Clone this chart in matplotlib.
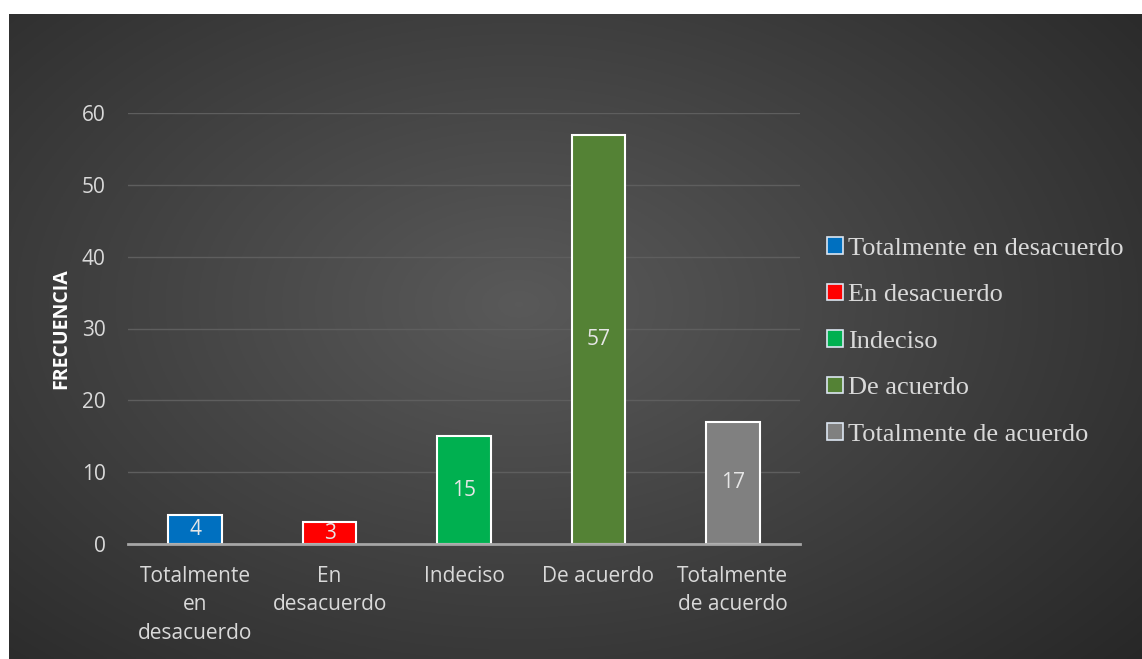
import matplotlib
matplotlib.use('Agg')
import matplotlib.pyplot as plt
import numpy as np
from matplotlib.patches import Patch

categorias = ['Totalmente\nen\ndesacuerdo', 'En\ndesacuerdo', 'Indeciso', 'De acuerdo', 'Totalmente\nde acuerdo']
leyenda = ['Totalmente en desacuerdo', 'En desacuerdo', 'Indeciso', 'De acuerdo', 'Totalmente de acuerdo']
frecuencia = [4, 3, 15, 57, 17]
colores = ['#0070C0', '#FF0000', '#00B050', '#548235', '#808080']

plt.rcParams['font.family'] = ['Open Sans', 'DejaVu Sans']

fig = plt.figure(figsize=(11.42, 6.59), dpi=100)
fig.patch.set_facecolor('white')

# fondo oscuro con gradiente radial
bg = fig.add_axes([9/1142, 0, 1 - 9/1142, 1 - 14/659])
yy, xx = np.mgrid[0:1:300j, 0:1:500j]
r = np.sqrt(((xx - 0.45) / 0.75) ** 2 + ((yy - 0.45) / 0.85) ** 2)
val = 0.35 - 0.20 * np.clip(r, 0, 1)
bg.imshow(np.dstack([val, val, val]), extent=[0, 1, 0, 1], aspect='auto', origin='upper')
bg.axis('off')

ax = fig.add_axes([128/1142, 115/659, 672/1142, 431/659])
ax.set_facecolor('none')
x = np.arange(len(categorias))
barras = ax.bar(x, frecuencia, width=0.4, color=colores, edgecolor='white', linewidth=1.5, zorder=3)
for b, v in zip(barras, frecuencia):
    ax.text(b.get_x() + b.get_width() / 2, v / 2, str(v), ha='center', va='center',
            color='#e6e6e6', fontsize=15, zorder=4)

ax.set_xlim(-0.5, 4.5)
ax.set_ylim(0, 60)
ax.set_yticks(range(0, 61, 10))
ax.grid(axis='y', color='#5e5e5e', linewidth=1, zorder=0)
ax.set_xticks(x)
ax.set_xticklabels(categorias, color='#d9d9d9', fontsize=15, linespacing=1.45)
ax.tick_params(axis='y', colors='#d9d9d9', labelsize=15, length=0, pad=16)
ax.tick_params(axis='x', length=0, pad=16)
for s in ['top', 'right', 'left']:
    ax.spines[s].set_visible(False)
ax.spines['bottom'].set_color('#a6a6a6')
ax.spines['bottom'].set_linewidth(2)
ax.spines['bottom'].set_zorder(5)
ax.set_ylabel('FRECUENCIA', color='white', fontsize=14, fontweight='bold', labelpad=8)

handles = [Patch(facecolor=c, edgecolor='#dce6f2', linewidth=1.2) for c in colores]
ax.legend(handles, leyenda, loc='center left', bbox_to_anchor=(1.005, 0.47), frameon=False,
          prop={'family': 'Liberation Serif', 'size': 19}, labelcolor='#d9d9d9',
          handlelength=0.6, handleheight=0.6, handletextpad=0.2, labelspacing=0.9)

fig.savefig('out.png', dpi=100, facecolor='white')
